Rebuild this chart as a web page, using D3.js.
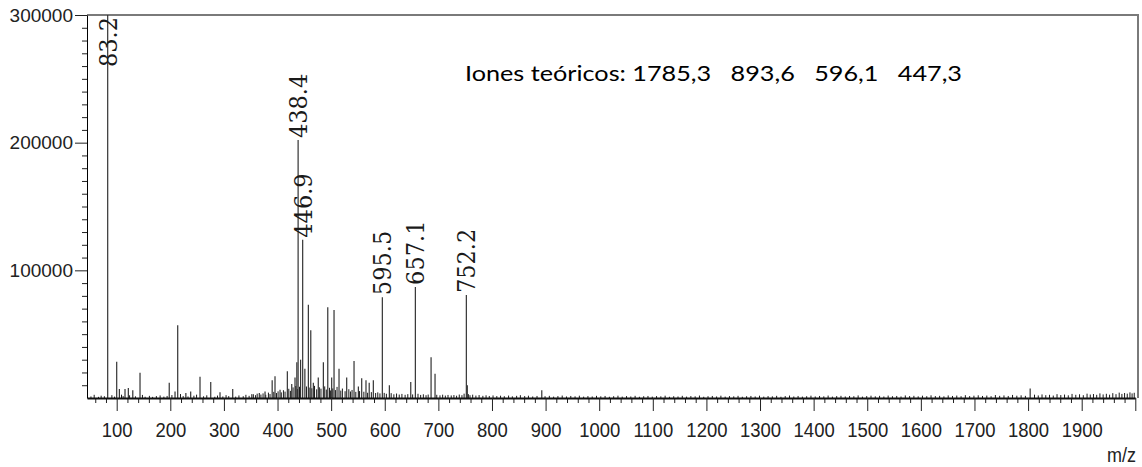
<!DOCTYPE html>
<html>
<head>
<meta charset="utf-8">
<script src="https://cdn.jsdelivr.net/npm/d3@7"></script>
<style>
  body { margin: 0; background: #fff; }
  svg { display: block; }
  svg text.peak-label { font-family: "DejaVu Serif Condensed", "DejaVu Serif", "Liberation Serif", serif; font-stretch: condensed; }
</style>
</head>
<body>
<div id="chart"></div>
<script>
// labelled peaks (m/z, counts)
var labelMz  = [83.2, 438.4, 446.9, 595.5, 657.1, 752.2];
var labelInt = [310000, 202000, 124000, 79000, 87000, 80600];

// other visible peaks
var minorPeaks = [
  [100,28400],[105,7000],[115.5,7000],[121.7,7800],[130,6000],[143.5,19800],[198,12000],
  [208.8,5000],[213.8,57000],[229,4000],[238,5000],[255.4,16700],[275.4,12500],[292.7,4500],
  [316.4,7000],[354.9,3000],[366,4000],[376.7,5000],[390,14000],[395.3,17000],[404.7,6500],
  [418.3,21000],[426.5,11000],[432.6,16000],[436,28000],[443,30000],[451,23000],[457.5,73000],
  [462,53000],[466.8,12000],[476,16000],[485.5,28000],[493.7,71000],[501,16000],[505.4,69000],
  [514.7,23000],[529,16000],[542.7,29000],[550.8,9000],[557,15500],[565,14000],[571,12000],
  [578.7,14000],[608.6,10000],[648.5,12500],[686.4,32000],[693.8,19000],[754,10000],
  [892.9,6000],[1803.9,7500]
];

// baseline grass
var noise = [
  [52,1200],[58,2500],[66,900],[71,1800],[77,1400],[91,2200],[96,1100],[109,2600],[112,1500],
  [124,2100],[135,1300],[148,2400],[153,1000],[161,1700],[167,900],[174,1500],[181,2000],
  [188,1100],[194,1600],[203,2300],[219,3100],[224,1500],[233,1200],[244,1800],[249,2600],
  [262,1300],[268,2100],[283,1000],[288,1900],[298,1200],[304,2200],[309,1500],[322,1100],
  [328,2000],[336,1400],[341,2500],[347,1700],[352,3000],[359,2200],[362,3400],[369,2700],
  [373,3600],[378,2500],[383,4200],[386,3100],[393,4800],[398,3900],[401,5200],[407,4400],
  [411,6100],[414,5000],[421,7200],[424,5600],[429,8300],[434,9400],[437,7000],[441,8800],
  [454,9000],[459,8200],[464,7600],[469,9500],[473,6800],[478,8400],[481,7300],[488,9100],
  [491,6600],[497,8000],[499,5900],[503,7500],[508,6200],[511,8700],[518,5800],[521,7400],
  [526,5300],[533,6900],[536,5100],[539,6300],[546,4800],[553,5400],[561,4900],[568,4100],
  [575,4600],[583,3900],[587,4400],[591,3600],[599,4000],[603,3300],[612,3800],[617,2900],
  [622,3500],[627,2700],[632,3200],[638,2500],[643,3000],[652,2800],[662,3300],[667,2400],
  [672,2900],[677,2200],[681,2700],[697,2500],[703,2100],[708,2600],[713,1900],[718,2400],
  [724,2000],[729,2300],[734,1800],[739,2700],[744,2200],[748,3400],[756,3000],[759,2200],
  [764,2600],[770,1900],[776,2300],[783,1700],[789,2100],[795,1600],[802,2000],[809,1500],
  [816,1800],[823,1400],[831,1900],[838,1300],[846,1700],[853,2200],[861,1500],[868,1800],
  [876,1200],[884,1600],[899,1400],[907,1700],[915,1100],[923,1500],[931,1900],[939,1200],
  [947,1600],[955,1300],[963,1800],[971,1100],[979,1500],[987,1200],[995,1700],[1003,1300],
  [1011,1600],[1019,1000],[1027,1400],[1035,1800],[1043,1100],[1051,1500],[1059,1200],
  [1067,1700],[1075,1000],[1083,1400],[1091,1600],[1099,1100],[1107,1500],[1115,1300],
  [1123,1800],[1131,1000],[1139,1400],[1147,1200],[1155,1700],[1163,1100],[1171,1500],
  [1179,1300],[1187,1900],[1195,1000],[1203,1400],[1211,1600],[1219,1200],[1227,1800],
  [1235,1100],[1243,1500],[1251,1300],[1259,1700],[1267,1000],[1275,1400],[1283,1600],
  [1291,1200],[1299,1800],[1307,1100],[1315,1500],[1323,1300],[1331,1700],[1339,1000],
  [1347,1500],[1355,1900],[1363,1200],[1371,1600],[1379,1100],[1387,1400],[1395,1800],
  [1403,1200],[1411,1600],[1419,1300],[1427,1900],[1435,1100],[1443,1500],[1451,1700],
  [1459,1200],[1467,1600],[1475,1400],[1483,2000],[1491,1100],[1499,1500],[1507,1800],
  [1515,1300],[1523,1700],[1531,1200],[1539,1900],[1547,1400],[1555,1600],[1563,1200],
  [1571,2000],[1579,1500],[1587,1700],[1595,1300],[1603,1800],[1611,1400],[1619,2100],
  [1627,1500],[1635,1700],[1643,1300],[1651,2000],[1659,1600],[1667,1900],[1675,1400],
  [1683,2200],[1691,1500],[1699,1800],[1707,2100],[1715,1600],[1723,1900],[1731,1400],
  [1739,2300],[1747,1700],[1755,2000],[1763,1600],[1771,2400],[1779,1800],[1787,2100],
  [1795,1700],[1812,2600],[1819,2000],[1826,2800],[1833,2200],[1840,2500],[1847,1900],
  [1854,3000],[1861,2300],[1868,2700],[1875,2100],[1882,3200],[1889,2500],[1896,2900],
  [1903,2200],[1910,3400],[1916,2700],[1922,3100],[1928,2500],[1934,3600],[1940,2800],
  [1946,3300],[1952,2600],[1958,3800],[1964,3000],[1970,4200],[1975,3200],[1980,3900],
  [1985,3400],[1990,4400],[1994,3600],[1998,4100]
];

var xTickLabels = [100,200,300,400,500,600,700,800,900,1000,1100,1200,1300,1400,1500,1600,1700,1800,1900];
var xMajorTicks = xTickLabels.concat([2000]);
var yTickLabels = [100000, 200000, 300000];
var note = "Iones teóricos: 1785,3   893,6   596,1   447,3";

var width = 1142, height = 467;
var plotL = 87, plotR = 1135.3, plotT = 15, plotB = 398;

var svg = d3.select("#chart").append("svg")
  .attr("width", width).attr("height", height);

svg.append("rect").attr("width", width).attr("height", height).attr("fill", "#fff");

var x = d3.scaleLinear().domain([44.6, 2000]).range([plotL, plotR]);
var y = d3.scaleLinear().domain([0, 300000]).range([plotB, plotT]);
var yMax = y.domain()[1];

// minor ticks: 20 on m/z, 10000 on counts
var xMinor = d3.range(60, 2000, 20).filter(function(v){ return v % 100 !== 0; });
var yMinor = d3.range(10000, 300000, 10000).filter(function(v){ return v % 100000 !== 0; });

// frame top / right
svg.append("path")
  .attr("d", "M" + plotL + "," + plotT + "H1138V" + plotB)
  .attr("fill", "none").attr("stroke", "#7a7a7a").attr("stroke-width", 2);

// stems
function stem(g, data, color, w) {
  g.selectAll("line").data(data).enter().append("line")
    .attr("x1", function(d){ return x(d[0]); })
    .attr("x2", function(d){ return x(d[0]); })
    .attr("y1", y(0))
    .attr("y2", function(d){ return y(Math.min(d[1], yMax)); })
    .attr("stroke", color).attr("stroke-width", w);
}
stem(svg.append("g"), noise, "#1a1a1a", 1);
stem(svg.append("g"), minorPeaks, "#333", 1.2);
var labelled = labelMz.map(function(m, i){ return [m, labelInt[i]]; });
stem(svg.append("g"), labelled, "#333", 1.2);

// peak labels, rotated
svg.append("g").selectAll("text").data(labelled).enter().append("text")
  .attr("class", "peak-label")
  .attr("transform", function(d){
    var yy = d[1] >= yMax ? plotT + 2 : y(d[1]) - 2;
    return "translate(" + x(d[0]) + "," + yy + ") rotate(-90)";
  })
  .attr("text-anchor", function(d){ return d[1] >= yMax ? "end" : "start"; })
  .attr("dy", "0.36em")
  .attr("font-size", 25)
  .attr("fill", "#1a1a1a")
  .text(function(d){ return d3.format(".1f")(d[0]); });

var sans = "'Liberation Sans', Arial, sans-serif";

// x axis
var gxMinor = svg.append("g").attr("transform", "translate(0," + plotB + ")")
  .call(d3.axisBottom(x).tickValues(xMinor).tickSize(5).tickFormat(""));
gxMinor.select(".domain").remove();

var gx = svg.append("g").attr("transform", "translate(0," + plotB + ")")
  .call(d3.axisBottom(x).tickValues(xMajorTicks).tickSizeInner(13).tickSizeOuter(0)
    .tickFormat(function(v){ return xTickLabels.indexOf(v) >= 0 ? v : ""; }));
gx.attr("font-family", sans);
gx.select(".domain").attr("stroke-width", 2.2).attr("stroke", "#111");
gx.selectAll("text")
  .attr("y", 39 / 1.12).attr("dy", 0)
  .attr("transform", "scale(1,1.12)")
  .style("font-size", "18.5px").attr("fill", "#222");

// y axis
var gyMinor = svg.append("g").attr("transform", "translate(" + plotL + ",0)")
  .call(d3.axisLeft(y).tickValues(yMinor).tickSize(5).tickFormat(""));
gyMinor.select(".domain").remove();

var gy = svg.append("g").attr("transform", "translate(" + plotL + ",0)")
  .call(d3.axisLeft(y).tickValues(yTickLabels).tickSizeInner(12).tickSizeOuter(0)
    .tickFormat(d3.format("d")));
gy.attr("font-family", sans);
gy.selectAll("text").attr("x", -14).style("font-size", "19px").attr("fill", "#222");

svg.selectAll(".tick line").attr("stroke", "#222");

// m/z
svg.append("text")
  .attr("transform", "translate(1136,462) scale(1,1.12)")
  .attr("text-anchor", "end")
  .attr("font-family", sans)
  .style("font-size", "18px").attr("fill", "#222")
  .text("m/z");

// note with the theoretical ions
svg.append("text")
  .attr("x", 465).attr("y", 81)
  .attr("textLength", 497).attr("lengthAdjust", "spacingAndGlyphs")
  .style("white-space", "pre")
  .style("font-family", "Lato, 'Open Sans', sans-serif")
  .style("font-size", "21px").attr("fill", "#000")
  .text(note);
</script>
</body>
</html>
